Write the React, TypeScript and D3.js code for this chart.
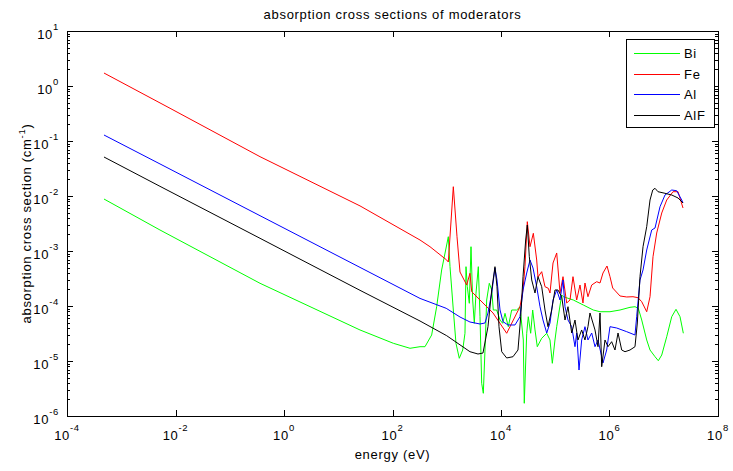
import React from 'react';
import * as d3 from 'd3';

const WIDTH = 733;
const HEIGHT = 471;

const legendLabels = ['Bi', 'Fe', 'Al', 'AlF'];
const lineColors = ['#00ff00', '#ff0000', '#0000ff', '#000000'];

const xTickPowers = [-4, -2, 0, 2, 4, 6, 8];
const yTickPowers = [1, 0, -1, -2, -3, -4, -5, -6];
const minorMultipliers = [2, 3, 4, 5, 6, 7, 8, 9];

const titleText = 'absorption cross sections of moderators';
const xLabelText = 'energy (eV)';
const yLabelText = 'absorption cross section (cm';

// pairs: [log10 energy (eV), log10 absorption cross section (cm^-1)]
const biData: [number, number][] = [
  [-3.318, -2.055], [-2.286, -2.618], [-0.442, -3.587], [1.401, -4.436], [2.015, -4.678],
  [2.323, -4.769], [2.507, -4.74], [2.599, -4.74], [2.722, -4.527], [2.814, -4.013],
  [2.906, -3.345], [3.029, -2.74], [3.06, -3.285], [3.121, -4.073], [3.17, -4.678],
  [3.231, -4.951], [3.294, -4.8], [3.336, -4.496], [3.355, -3.285], [3.379, -3.649],
  [3.416, -3.951], [3.447, -2.922], [3.478, -3.891], [3.508, -4.315], [3.539, -3.769],
  [3.582, -3.285], [3.613, -4.195], [3.644, -5.405], [3.674, -5.587], [3.705, -4.8],
  [3.736, -3.891], [3.784, -3.587], [3.829, -3.709], [3.858, -4.073], [3.92, -4.073],
  [3.982, -4.255], [4.031, -4.315], [4.074, -4.133], [4.135, -4.376], [4.197, -4.073],
  [4.289, -4.073], [4.35, -4.013], [4.411, -4.618], [4.429, -5.769], [4.474, -4.496],
  [4.503, -4.195], [4.547, -4.496], [4.584, -4.073], [4.627, -4.436], [4.669, -4.74],
  [4.75, -4.587], [4.843, -4.496], [4.903, -4.618], [4.946, -5.042], [4.995, -4.618],
  [5.027, -4.376], [5.075, -4.073], [5.119, -3.8], [5.149, -3.831], [5.333, -3.891],
  [5.517, -3.982], [5.701, -4.073], [5.825, -4.104], [6.009, -4.104], [6.194, -4.073],
  [6.378, -4.024], [6.47, -4.013], [6.531, -4.042], [6.594, -4.255], [6.686, -4.618],
  [6.747, -4.8], [6.839, -4.922], [6.9, -4.995], [6.963, -4.891], [7.055, -4.558],
  [7.147, -4.195], [7.226, -4.06], [7.3, -4.195], [7.361, -4.496],
];

const feData: [number, number][] = [
  [-3.318, 0.236], [-2.101, -0.405], [-0.442, -1.285], [1.401, -2.18], [2.507, -2.8],
  [2.691, -2.922], [2.999, -3.164], [3.029, -3.2], [3.121, -1.831], [3.189, -2.74],
  [3.244, -3.382], [3.368, -3.618], [3.428, -3.405], [3.46, -3.74], [3.613, -3.891],
  [3.853, -4.127], [4.105, -4.496], [4.35, -4.013], [4.406, -3.709], [4.442, -3.285],
  [4.485, -2.467], [4.535, -2.922], [4.596, -2.678], [4.658, -3.164], [4.682, -3.473],
  [4.75, -3.376], [4.811, -3.649], [4.872, -3.678], [4.903, -3.764], [4.959, -3.218],
  [5.027, -3.036], [5.088, -3.764], [5.143, -3.467], [5.211, -3.945], [5.272, -3.891],
  [5.327, -3.467], [5.395, -3.891], [5.456, -3.618], [5.511, -3.945], [5.548, -3.582],
  [5.603, -3.831], [5.672, -3.618], [5.764, -3.558], [5.825, -3.582], [5.88, -3.4],
  [5.954, -3.273], [6.009, -3.467], [6.059, -3.673], [6.194, -3.818], [6.317, -3.836],
  [6.433, -3.831], [6.525, -3.849], [6.594, -3.922], [6.686, -4.104], [6.747, -3.831],
  [6.802, -3.104], [6.87, -2.673], [6.963, -2.309], [7.055, -2.073], [7.171, -1.922],
  [7.263, -1.922], [7.355, -2.218],
];

const alData: [number, number][] = [
  [-3.318, -0.891], [-2.286, -1.417], [-0.442, -2.358], [1.401, -3.298], [2.507, -3.862],
  [2.99, -4.042], [3.244, -4.2], [3.428, -4.291], [3.613, -4.327], [3.705, -4.309],
  [3.76, -4.127], [3.829, -3.764], [3.889, -3.309], [3.926, -3.527], [3.982, -4.073],
  [4.037, -4.285], [4.129, -4.345], [4.258, -4.345], [4.35, -4.195], [4.406, -3.709],
  [4.474, -3.4], [4.535, -3.164], [4.59, -3.309], [4.658, -3.649], [4.719, -4.013],
  [4.774, -4.255], [4.843, -4.491], [4.903, -4.309], [4.959, -3.891], [5.027, -3.709],
  [5.088, -3.891], [5.143, -3.527], [5.18, -4.013], [5.235, -4.255], [5.303, -4.376],
  [5.364, -4.74], [5.395, -4.491], [5.438, -5.164], [5.487, -4.618], [5.548, -4.376],
  [5.603, -4.618], [5.672, -4.491], [5.733, -4.74], [5.788, -4.618], [5.856, -4.922],
  [5.88, -5.036], [5.948, -4.8], [6.009, -4.376], [6.133, -4.4], [6.317, -4.467],
  [6.47, -4.527], [6.501, -4.195], [6.562, -3.527], [6.618, -3.345], [6.686, -2.982],
  [6.778, -2.618], [6.839, -2.582], [6.931, -2.195], [7.023, -1.982], [7.147, -1.891],
  [7.239, -1.904], [7.331, -2.073], [7.355, -2.127],
];

const alfData: [number, number][] = [
  [-3.318, -1.291], [-2.286, -1.824], [-0.442, -2.769], [1.401, -3.715], [2.507, -4.273],
  [2.999, -4.54], [3.428, -4.831], [3.576, -4.873], [3.668, -4.855], [3.76, -4.376],
  [3.829, -3.709], [3.889, -3.285], [3.926, -3.649], [3.963, -4.376], [4.013, -4.831],
  [4.105, -4.945], [4.221, -4.922], [4.313, -4.8], [4.363, -4.195], [4.406, -3.467],
  [4.455, -2.8], [4.485, -2.527], [4.522, -3.104], [4.566, -3.527], [4.627, -3.764],
  [4.682, -3.467], [4.75, -3.649], [4.811, -4.073], [4.866, -4.376], [4.934, -4.073],
  [4.995, -3.709], [5.05, -3.709], [5.119, -3.831], [5.18, -4.255], [5.235, -4.013],
  [5.303, -4.491], [5.364, -4.255], [5.419, -4.618], [5.487, -4.436], [5.548, -4.618],
  [5.603, -4.376], [5.64, -4.127], [5.733, -4.436], [5.788, -4.74], [5.825, -4.127],
  [5.856, -5.104], [5.917, -4.618], [5.972, -4.74], [6.04, -4.649], [6.101, -4.8],
  [6.157, -4.491], [6.225, -4.8], [6.286, -4.831], [6.378, -4.8], [6.47, -4.74],
  [6.513, -4.309], [6.562, -3.467], [6.618, -2.922], [6.686, -2.558], [6.747, -2.073],
  [6.797, -1.891], [6.839, -1.86], [6.894, -1.922], [7.023, -1.951], [7.147, -1.982],
  [7.263, -2.036], [7.355, -2.127],
];

const FONT = '"Liberation Sans", Arial, Helvetica, sans-serif';
const FS = 13;
const SUP = 9.5;
const LS = 0.7;

export default function App() {
  const left = 67, right = 718, top = 31, bottom = 416;
  const x = d3.scaleLog().domain([1e-4, 1e8]).range([left, right]);
  const y = d3.scaleLog().domain([1e-6, 1e1]).range([bottom, top]);
  const line = d3
    .line<[number, number]>()
    .x((d) => x(Math.pow(10, d[0])))
    .y((d) => y(Math.pow(10, d[1])));

  const series = [biData, feData, alData, alfData];

  const minorY: number[] = [];
  for (let e = -6; e < 1; e++) {
    for (const k of minorMultipliers) minorY.push(k * Math.pow(10, e));
  }

  const majorLen = 6;
  const minorLen = 3;

  const legendX = 626, legendY = 39, legendW = 88, legendH = 88;
  const legendRows = [52.7, 73.5, 94.3, 115];

  return (
    <svg
      width={WIDTH}
      height={HEIGHT}
      style={{ position: 'absolute', left: 0, top: 0, background: '#fff' }}
      fontFamily={FONT}
    >
      <rect x={0} y={0} width={WIDTH} height={HEIGHT} fill="#fff" />
      <defs>
        <clipPath id="plotClip">
          <rect x={left} y={top} width={right - left} height={bottom - top} />
        </clipPath>
      </defs>

      {/* series */}
      <g clipPath="url(#plotClip)" fill="none" strokeWidth={1} strokeLinejoin="round">
        {series.map((s, i) => (
          <path key={i} d={line(s) || ''} stroke={lineColors[i]} />
        ))}
      </g>

      {/* axes box and ticks */}
      <g stroke="#000" strokeWidth={1} shapeRendering="crispEdges">
        <rect x={left + 0.5} y={top + 0.5} width={right - left} height={bottom - top} fill="none" />
        {xTickPowers.map((p) => {
          const xx = Math.round(x(Math.pow(10, p))) + 0.5;
          return (
            <g key={'xt' + p}>
              <line x1={xx} x2={xx} y1={bottom} y2={bottom - majorLen} />
              <line x1={xx} x2={xx} y1={top} y2={top + majorLen} />
            </g>
          );
        })}
        {yTickPowers.map((p) => {
          const yy = Math.round(y(Math.pow(10, p))) + 0.5;
          return (
            <g key={'yt' + p}>
              <line x1={left} x2={left + majorLen} y1={yy} y2={yy} />
              <line x1={right} x2={right - majorLen} y1={yy} y2={yy} />
            </g>
          );
        })}
        {minorY.map((v, i) => {
          const yy = Math.round(y(v)) + 0.5;
          return (
            <g key={'ym' + i}>
              <line x1={left} x2={left + minorLen} y1={yy} y2={yy} />
              <line x1={right} x2={right - minorLen} y1={yy} y2={yy} />
            </g>
          );
        })}
      </g>

      {/* tick labels */}
      <g fontSize={FS} fill="#000" letterSpacing={LS}>
        {xTickPowers.map((p) => (
          <text key={'xl' + p} x={x(Math.pow(10, p))} y={440} textAnchor="middle">
            10
            <tspan fontSize={SUP} dy={-9}>
              {String(p)}
            </tspan>
          </text>
        ))}
        {yTickPowers.map((p) => (
          <text key={'yl' + p} x={59} y={y(Math.pow(10, p)) + 8} textAnchor="end">
            10
            <tspan fontSize={SUP} dy={-9}>
              {String(p)}
            </tspan>
          </text>
        ))}
      </g>

      {/* title and axis labels */}
      <text x={(left + right) / 2} y={19} textAnchor="middle" fontSize={FS} letterSpacing={LS}>
        {titleText}
      </text>
      <text x={(left + right) / 2} y={459} textAnchor="middle" fontSize={FS} letterSpacing={LS}>
        {xLabelText}
      </text>
      <text
        transform={`translate(31, ${(top + bottom) / 2}) rotate(-90)`}
        textAnchor="middle"
        fontSize={FS}
        letterSpacing={LS}
      >
        {yLabelText}
        <tspan fontSize={SUP} dy={-6}>-1</tspan>
        <tspan dy={6}>)</tspan>
      </text>

      {/* legend */}
      <g>
        <rect
          x={legendX + 0.5}
          y={legendY + 0.5}
          width={legendW}
          height={legendH}
          fill="#fff"
          stroke="#000"
          strokeWidth={1}
          shapeRendering="crispEdges"
        />
        {legendLabels.map((lab, i) => (
          <g key={lab}>
            <line
              x1={634}
              x2={680}
              y1={Math.round(legendRows[i]) + 0.5}
              y2={Math.round(legendRows[i]) + 0.5}
              stroke={lineColors[i]}
              strokeWidth={1}
              shapeRendering="crispEdges"
            />
            <text x={684} y={legendRows[i] + 5} fontSize={FS} letterSpacing={LS}>
              {lab}
            </text>
          </g>
        ))}
      </g>
    </svg>
  );
}
